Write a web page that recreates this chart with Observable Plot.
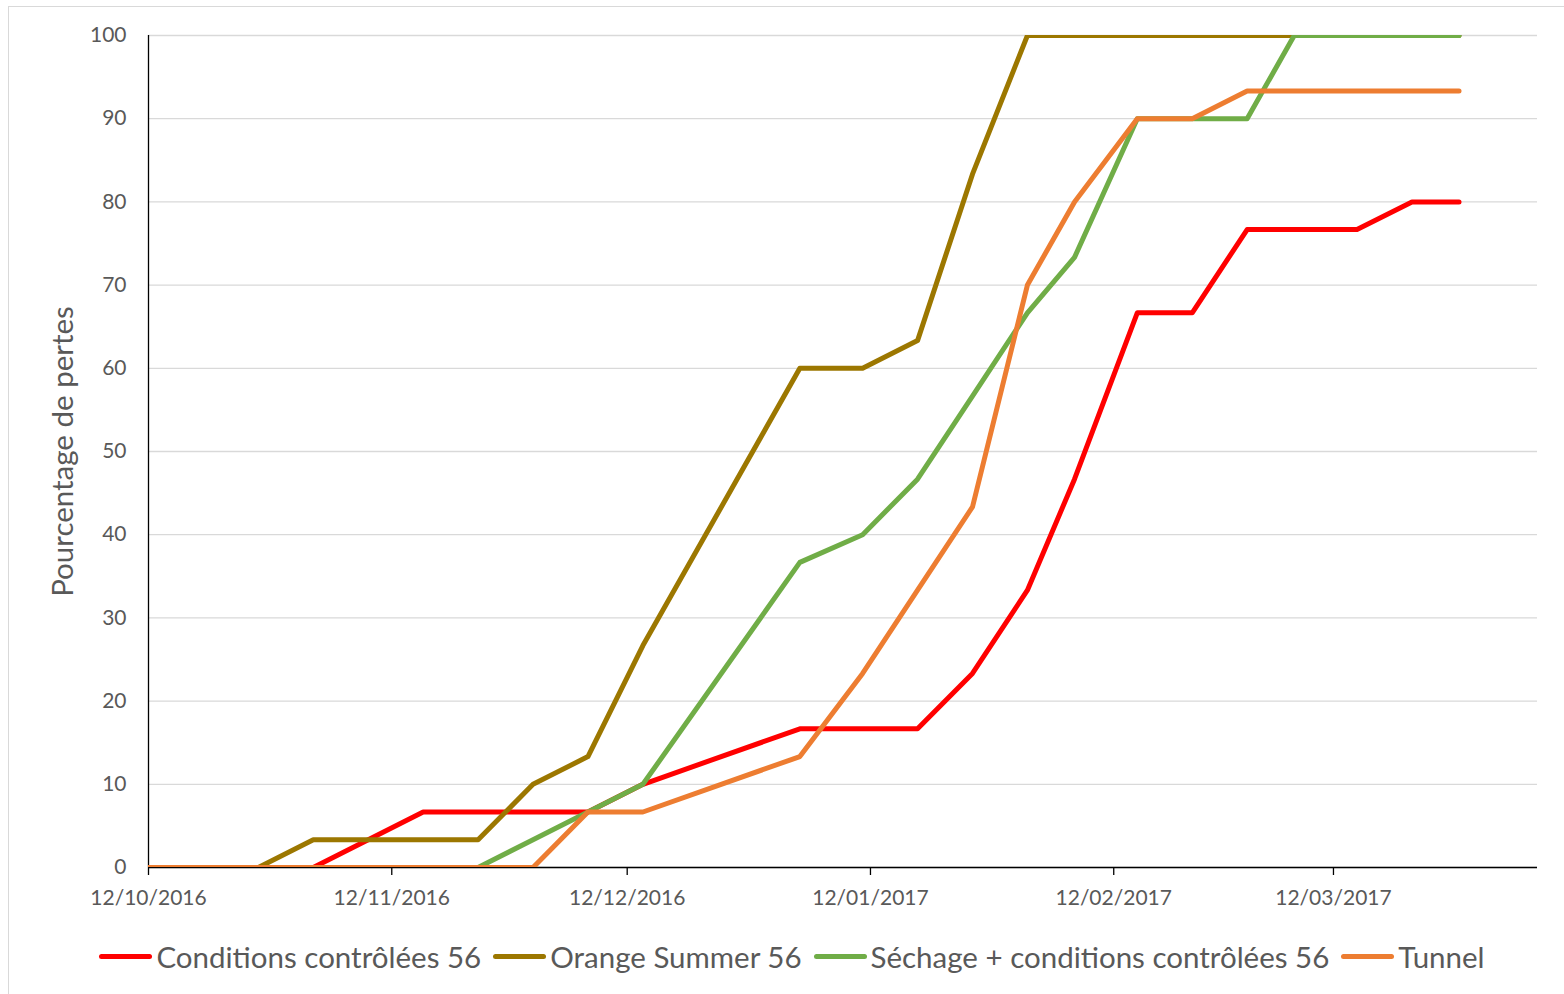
<!DOCTYPE html>
<html>
<head>
<meta charset="utf-8">
<script src="https://cdn.jsdelivr.net/npm/d3@7"></script>
<script src="https://cdn.jsdelivr.net/npm/@observablehq/plot@0.6"></script>
<style>
  html, body { margin: 0; padding: 0; background: #fff; overflow: hidden; }
  #frame { position: absolute; left: 8px; top: 6px; width: 1600px; height: 1000px; border: 1px solid #d9d9d9; box-sizing: border-box; }
  #chart { position: absolute; left: 0; top: 0; }
  #legend { position: absolute; left: 0; top: 930px; width: 1584px; height: 52px; display: flex; justify-content: center; align-items: center;
            font-family: Lato, "Open Sans", sans-serif; font-size: 29.5px; color: #595959; white-space: nowrap; }
  .item { display: flex; align-items: center; margin-right: 12px; }
  .item:last-child { margin-right: 0; }
  .sw { width: 53px; height: 5px; border-radius: 3px; margin-right: 4px; }
</style>
</head>
<body>
<div id="frame"></div>
<div id="chart"></div>
<div id="legend"></div>
<script>
// ---- data ----
const dates = ["2016-10-12","2016-10-26","2016-11-02","2016-11-16","2016-11-23","2016-11-30","2016-12-07","2016-12-14",
               "2017-01-03","2017-01-11","2017-01-18","2017-01-25","2017-02-01","2017-02-07","2017-02-15","2017-02-22",
               "2017-03-01","2017-03-07","2017-03-15","2017-03-22","2017-03-28"];
const seriesNames = ["Conditions contrôlées 56", "Orange Summer 56", "Séchage + conditions contrôlées 56", "Tunnel"];
const seriesColors = ["#ff0000", "#9c7700", "#70ad47", "#ed7d31"];
const conditionsControlees = [0,0,0,6.67,6.67,6.67,6.67,10,16.67,16.67,16.67,23.33,33.33,46.67,66.67,66.67,76.67,76.67,76.67,80,80];
const orangeSummer = [0,0,3.33,3.33,3.33,10,13.33,26.67,60,60,63.33,83.33,100,100,100,100,100,100,100,100,100];
const sechage = [0,0,0,0,0,3.33,6.67,10,36.67,40,46.67,56.67,66.67,73.33,90,90,90,100,100,100,100];
const tunnel = [0,0,0,0,0,0,6.67,6.67,13.33,23.33,33.33,43.33,70,80,90,90,93.33,93.33,93.33,93.33,93.33];
const yTicks = [0,10,20,30,40,50,60,70,80,90,100];
const xTicks = ["2016-10-12","2016-11-12","2016-12-12","2017-01-12","2017-02-12","2017-03-12"];
const xDomain = ["2016-10-12","2017-04-07"];
const yLabel = "Pourcentage de pertes";

// ---- build table ----
const allValues = [conditionsControlees, orangeSummer, sechage, tunnel];
const rows = [];
seriesNames.forEach((name, i) => {
  dates.forEach((d, j) => rows.push({series: name, date: new Date(d), value: allValues[i][j]}));
});
const fmt = d3.utcFormat("%d/%m/%Y");

const chart = Plot.plot({
  width: 1564,
  height: 920,
  marginLeft: 148,
  marginRight: 27,
  marginTop: 35,
  marginBottom: 53,
  style: {fontFamily: "Lato, 'Open Sans', sans-serif", color: "#595959", background: "transparent", overflow: "visible"},
  x: {type: "utc", domain: xDomain.map(d => new Date(d))},
  y: {domain: [0, 100]},
  color: {domain: seriesNames, range: seriesColors},
  marks: [
    Plot.gridY(yTicks, {stroke: "#d9d9d9", strokeOpacity: 1, strokeWidth: 1.3}),
    Plot.ruleY([0], {stroke: "#000", strokeWidth: 1.3}),
    Plot.ruleX([new Date(xDomain[0])], {stroke: "#000", strokeWidth: 1.3}),
    Plot.axisY(yTicks, {tickSize: 0, tickPadding: 22, fontSize: 21, label: null, fill: "#595959"}),
    Plot.axisX(xTicks.map(d => new Date(d)), {tickSize: 8, tickPadding: 15, fontSize: 21, label: null,
      tickFormat: fmt, stroke: "#000", strokeWidth: 1.3, fill: "#595959"}),
    Plot.line(rows, {x: "date", y: "value", z: "series", stroke: "series", strokeWidth: 5,
      strokeLinecap: "round", strokeLinejoin: "round", clip: true}),
    Plot.text([yLabel], {frameAnchor: "left", rotate: -90, dx: -85, textAnchor: "middle", fontSize: 29.5, fill: "#595959"})
  ]
});
document.getElementById("chart").appendChild(chart);

// ---- legend ----
const legend = document.getElementById("legend");
seriesNames.forEach((name, i) => {
  const item = document.createElement("div");
  item.className = "item";
  const sw = document.createElement("div");
  sw.className = "sw";
  sw.style.background = seriesColors[i];
  const label = document.createElement("span");
  label.textContent = name;
  item.appendChild(sw);
  item.appendChild(label);
  legend.appendChild(item);
});
</script>
</body>
</html>
